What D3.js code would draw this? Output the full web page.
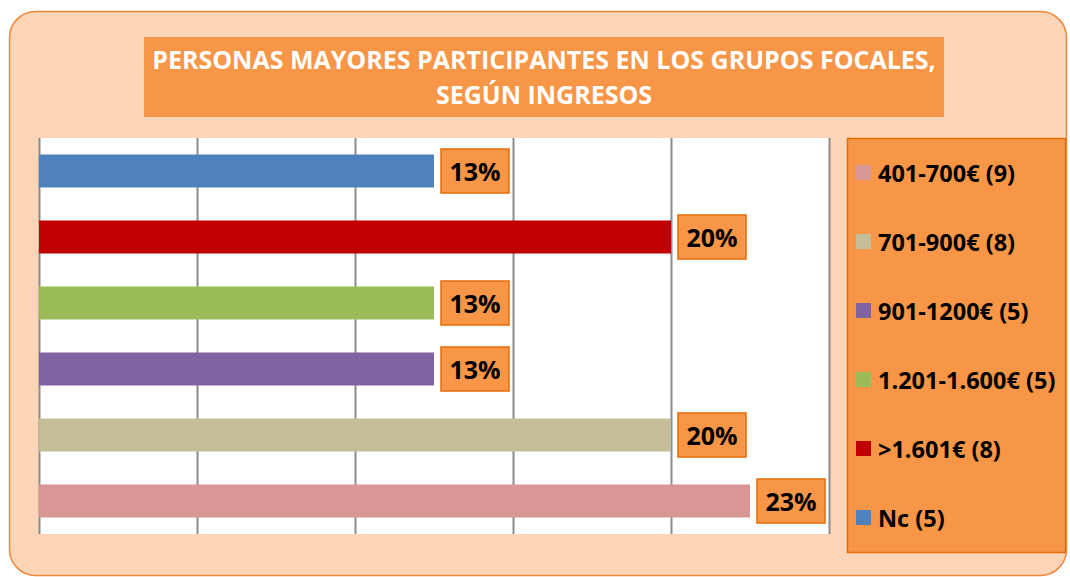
<!DOCTYPE html>
<html>
<head>
<meta charset="utf-8">
<script src="https://cdn.jsdelivr.net/npm/d3@7"></script>
<style>
  body { margin: 0; background: #fff; }
  svg { display: block; }
  text { font-family: "Open Sans", Lato, sans-serif; font-weight: bold; }
</style>
</head>
<body>
<div id="chart"></div>
<script>
// data, top to bottom as drawn
var categories = ['Nc (5)', '>1.601€ (8)', '1.201-1.600€ (5)', '901-1200€ (5)', '701-900€ (8)', '401-700€ (9)'];
var values = [12.5, 20, 12.5, 12.5, 20, 22.5];
var valueLabels = ['13%', '20%', '13%', '13%', '20%', '23%'];
var barColors = ['#4F81BD', '#C00000', '#9BBB59', '#8064A2', '#C4BD97', '#D99694'];
var xTicks = [0, 5, 10, 15, 20, 25];
var titleLines = ['PERSONAS MAYORES PARTICIPANTES EN LOS GRUPOS FOCALES,', 'SEGÚN INGRESOS'];

var W = 1070, H = 577;
var plot = {left: 39, top: 138, right: 829, bottom: 534};

var svg = d3.select('#chart').append('svg')
    .attr('width', W)
    .attr('height', H);

// outer chart area
svg.append('rect')
    .attr('x', 9.5).attr('y', 11.5)
    .attr('width', 1057).attr('height', 564)
    .attr('rx', 26).attr('ry', 26)
    .attr('fill', '#FBD5B5')
    .attr('stroke', '#F0883A')
    .attr('stroke-width', 1.5);

// title
svg.append('rect')
    .attr('x', 144).attr('y', 37)
    .attr('width', 800).attr('height', 80)
    .attr('fill', '#F79646');

svg.selectAll('.title')
    .data(titleLines)
    .enter().append('text')
    .attr('class', 'title')
    .attr('x', 544)
    .attr('y', (d, i) => 69 + i * 35)
    .attr('text-anchor', 'middle')
    .attr('fill', '#fff')
    .style('font-size', '25px')
    .text(d => d);

// plot area
var x = d3.scaleLinear()
    .domain([0, 25])
    .range([plot.left, plot.right]);

var y = d3.scaleBand()
    .domain(categories)
    .range([plot.top, plot.bottom])
    .paddingInner(0.5)
    .paddingOuter(0.25);

svg.append('rect')
    .attr('x', plot.left).attr('y', plot.top)
    .attr('width', plot.right - plot.left)
    .attr('height', plot.bottom - plot.top)
    .attr('fill', '#fff');

var grid = svg.append('g')
    .attr('transform', 'translate(0,' + plot.top + ')')
    .call(d3.axisBottom(x).tickValues(xTicks).tickSize(plot.bottom - plot.top).tickFormat(''));
grid.select('.domain').remove();
grid.selectAll('line').attr('stroke', '#8C8C8C').attr('stroke-width', 2);

// bars
svg.selectAll('.bar')
    .data(values)
    .enter().append('rect')
    .attr('class', 'bar')
    .attr('x', x(0))
    .attr('y', (d, i) => y(categories[i]))
    .attr('width', d => x(d) - x(0))
    .attr('height', y.bandwidth())
    .attr('fill', (d, i) => barColors[i]);

// value labels
var lab = svg.selectAll('.lab')
    .data(values)
    .enter().append('g')
    .attr('class', 'lab')
    .attr('transform', (d, i) => 'translate(' + (x(d) + 7) + ',' + (y(categories[i]) + y.bandwidth() / 2) + ')');

lab.append('rect')
    .attr('x', 0).attr('y', -22)
    .attr('width', 68).attr('height', 44)
    .attr('fill', '#F79646')
    .attr('stroke', '#E46C0A')
    .attr('stroke-width', 1.5);

lab.append('text')
    .attr('x', 34).attr('y', 10)
    .attr('text-anchor', 'middle')
    .attr('fill', '#000')
    .style('font-size', '25px')
    .text((d, i) => valueLabels[i]);

// legend (reverse order)
var legendItems = categories.map((c, i) => ({name: c, color: barColors[i]})).reverse();

svg.append('rect')
    .attr('x', 847.5).attr('y', 138.5)
    .attr('width', 218).attr('height', 414)
    .attr('fill', '#F79646')
    .attr('stroke', '#E46C0A')
    .attr('stroke-width', 1.5);

var leg = svg.selectAll('.leg')
    .data(legendItems)
    .enter().append('g')
    .attr('class', 'leg')
    .attr('transform', (d, i) => 'translate(856,' + (173 + i * 69) + ')');

leg.append('rect')
    .attr('x', 0).attr('y', -8)
    .attr('width', 15).attr('height', 15)
    .attr('fill', d => d.color);

leg.append('text')
    .attr('x', 22).attr('y', 9)
    .attr('fill', '#000')
    .style('font-size', '23.5px')
    .text(d => d.name);
</script>
</body>
</html>
